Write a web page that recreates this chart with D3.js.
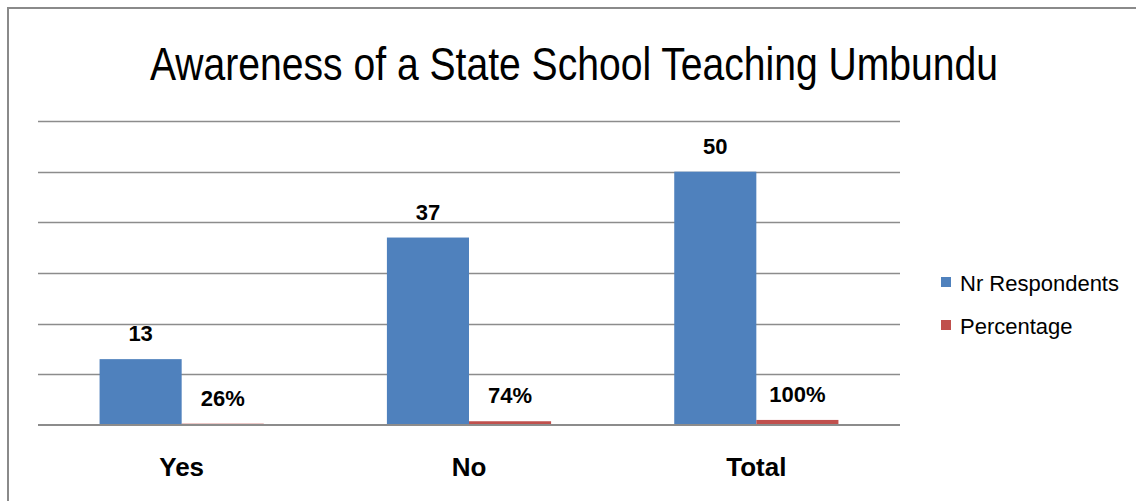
<!DOCTYPE html>
<html>
<head>
<meta charset="utf-8">
<script src="https://cdn.jsdelivr.net/npm/d3@7"></script>
<style>
  html, body { margin: 0; padding: 0; background: #fff; }
  svg { display: block; }
  .title { font-family: "Liberation Sans Narrow", "Arial Narrow", "Liberation Sans", sans-serif; }
  .num { font-family: "Liberation Sans", Arial, sans-serif; font-weight: bold; }
  .cat { font-family: "Liberation Sans Narrow", "Arial Narrow", "Liberation Sans", sans-serif; font-weight: bold; }
  .leg { font-family: "Liberation Sans Narrow", "Arial Narrow", "Liberation Sans", sans-serif; }
</style>
</head>
<body>
<div id="chart"></div>
<script>
// chart data
const categories = ['Yes', 'No', 'Total'];
const seriesNames = ['Nr Respondents', 'Percentage'];
const respondents = [13, 37, 50];
const percentages = [0.26, 0.74, 1.00];
const yTicks = [0, 10, 20, 30, 40, 50, 60];
const colors = ['#4F81BD', '#C0504D'];

const width = 1136;
const height = 501;

const svg = d3.select('#chart')
  .append('svg')
  .attr('width', width)
  .attr('height', height);

// outer chart frame (runs off the right / bottom of the picture)
svg.append('rect')
  .attr('x', 8)
  .attr('y', 8)
  .attr('width', width + 20)
  .attr('height', height + 20)
  .attr('fill', 'none')
  .attr('stroke', '#8a8a8a')
  .attr('stroke-width', 2);

svg.append('text')
  .attr('class', 'title')
  .attr('x', 574)
  .attr('y', 80)
  .attr('text-anchor', 'middle')
  .attr('font-size', 46)
  .attr('textLength', 848)
  .attr('lengthAdjust', 'spacingAndGlyphs')
  .attr('fill', '#000')
  .text('Awareness of a State School Teaching Umbundu');

const plot = { left: 38, right: 900, top: 121, bottom: 425 };

const y = d3.scaleLinear()
  .domain([0, 60])
  .range([plot.bottom, plot.top]);

const x0 = d3.scaleBand()
  .domain(categories)
  .range([plot.left, plot.right])
  .padding(0);

const x1 = d3.scaleBand()
  .domain(seriesNames)
  .range([0, x0.bandwidth()])
  .paddingInner(0)
  .paddingOuter(0.75);

// gridlines (the zero line is drawn later, over the bars)
svg.append('g')
  .selectAll('line')
  .data(yTicks.filter(d => d !== 0))
  .enter()
  .append('line')
  .attr('x1', plot.left)
  .attr('x2', plot.right)
  .attr('y1', d => Math.round(y(d)) + 0.5)
  .attr('y2', d => Math.round(y(d)) + 0.5)
  .attr('stroke', '#8c8c8c')
  .attr('stroke-width', 1.4);

const rows = categories.map((c, i) => ({
  cat: c,
  values: [
    { key: seriesNames[0], value: respondents[i], label: String(respondents[i]) },
    { key: seriesNames[1], value: percentages[i], label: d3.format('.0%')(percentages[i]) }
  ]
}));

const group = svg.append('g')
  .selectAll('g')
  .data(rows)
  .enter()
  .append('g')
  .attr('transform', d => 'translate(' + x0(d.cat) + ',0)');

group.selectAll('rect')
  .data(d => d.values)
  .enter()
  .append('rect')
  .attr('x', d => x1(d.key))
  .attr('y', d => y(d.value))
  .attr('width', x1.bandwidth())
  .attr('height', d => y(0) - y(d.value))
  .attr('fill', (d, i) => colors[i]);

group.selectAll('text')
  .data(d => d.values)
  .enter()
  .append('text')
  .attr('class', 'num')
  .attr('x', d => x1(d.key) + x1.bandwidth() / 2)
  .attr('y', d => y(d.value) - 18)
  .attr('text-anchor', 'middle')
  .attr('font-size', 22)
  .attr('fill', '#000')
  .text(d => d.label);

// category axis line
svg.append('line')
  .attr('x1', plot.left)
  .attr('x2', plot.right)
  .attr('y1', y(0))
  .attr('y2', y(0))
  .attr('stroke', '#8c8c8c')
  .attr('stroke-width', 2);

// category labels
svg.append('g')
  .selectAll('text')
  .data(categories)
  .enter()
  .append('text')
  .attr('class', 'cat')
  .attr('x', d => x0(d) + x0.bandwidth() / 2)
  .attr('y', 476)
  .attr('text-anchor', 'middle')
  .attr('font-size', 26)
  .attr('fill', '#000')
  .text(d => d);

// legend
const legend = svg.append('g')
  .selectAll('g')
  .data(seriesNames)
  .enter()
  .append('g')
  .attr('transform', (d, i) => 'translate(941,' + (277 + i * 43) + ')');

legend.append('rect')
  .attr('width', 10)
  .attr('height', 10)
  .attr('fill', (d, i) => colors[i]);

legend.append('text')
  .attr('class', 'leg')
  .attr('x', 19)
  .attr('y', 14)
  .attr('font-size', 22)
  .attr('fill', '#000')
  .text(d => d);
</script>
</body>
</html>
